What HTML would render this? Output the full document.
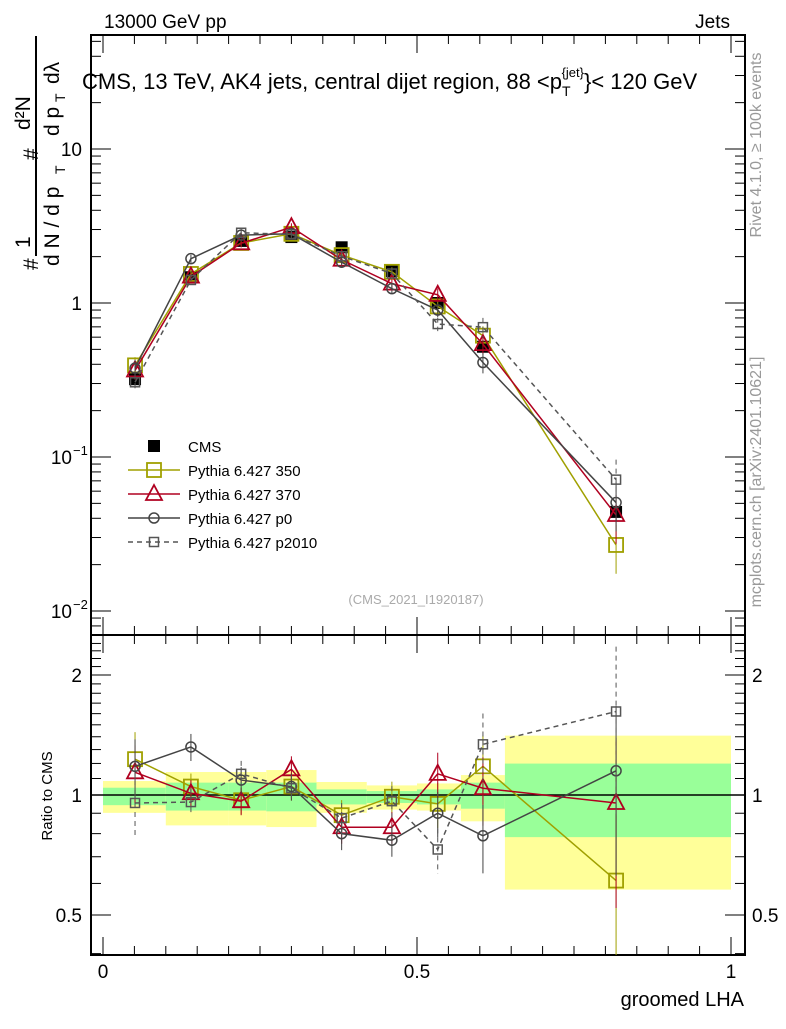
<!DOCTYPE html>
<html><head><meta charset="utf-8"><style>
body{margin:0;background:#fff}
svg text{font-family:"Liberation Sans",sans-serif}
</style></head><body>
<svg id="c" width="786" height="1024" xmlns="http://www.w3.org/2000/svg">
<g id="bands"></g>
<g id="axes"></g>
<g id="series"></g>
<text x="104" y="28" font-size="19">13000 GeV pp</text>
<text x="730" y="28" font-size="19" text-anchor="end">Jets</text>
<text x="82" y="89" font-size="22">CMS, 13 TeV, AK4 jets, central dijet region, 88 &lt;p<tspan font-size="14" dy="7">T</tspan><tspan font-size="13" dy="-19" dx="-9">{jet}</tspan><tspan dy="12">}&lt; 120 GeV</tspan></text>
<text x="416" y="604" font-size="13" fill="#aaa" text-anchor="middle">(CMS_2021_I1920187)</text>
<g transform="translate(761,145) rotate(-90)"><text x="0" y="0" font-size="16" fill="#999" text-anchor="middle">Rivet 4.1.0, ≥ 100k events</text></g>
<g transform="translate(761,482) rotate(-90)"><text x="0" y="0" font-size="16" fill="#999" text-anchor="middle">mcplots.cern.ch [arXiv:2401.10621]</text></g>
<g transform="translate(36,160) rotate(-90)">
<text x="-110" y="2" font-size="21">#</text>
<text x="-88" y="-6" font-size="21">1</text>
<line x1="-96" y1="0" x2="28" y2="0" stroke="#000" stroke-width="2"/>
<text x="-106" y="23" font-size="21">d N / d p</text>
<text x="-14" y="29" font-size="14">T</text>
<text x="0" y="2" font-size="21">#</text>
<text x="30" y="-6" font-size="21">d²N</text>
<line x1="22" y1="0" x2="124" y2="0" stroke="#000" stroke-width="2"/>
<text x="24" y="23" font-size="21">d p</text>
<text x="58" y="29" font-size="14">T</text>
<text x="76" y="23" font-size="21">dλ</text>
</g>
<text x="52" y="796" font-size="15" text-anchor="middle" transform="rotate(-90 52 796)">Ratio to CMS</text>
<text x="744" y="1006" font-size="20" text-anchor="end">groomed LHA</text>
<g id="legend"></g>
</svg>
<script>
const binEdges=[0,0.1,0.2,0.26,0.34,0.42,0.5,0.57,0.64,1.0];
const pointX=[0.051,0.14,0.22,0.30,0.38,0.46,0.533,0.605,0.817];
const cmsValues=[0.32,1.47,2.53,2.68,2.3,1.61,1.0,0.52,0.044];
const cmsErr=[0.04,0.08,0.1,0.1,0.1,0.06,0.05,0.04,0.006];
const yellowHi=[1.084,1.142,1.142,1.155,1.078,1.057,1.069,1.122,1.409];
const yellowLo=[0.902,0.839,0.839,0.831,0.902,0.919,0.914,0.859,0.579];
const greenHi=[1.043,1.074,1.074,1.074,1.033,1.023,1.033,1.074,1.199];
const greenLo=[0.943,0.914,0.914,0.910,0.947,0.955,0.947,0.924,0.784];
const ratio350=[1.23,1.05,0.97,1.05,0.89,0.99,0.95,1.18,0.61];
const ratio370=[1.14,1.01,0.965,1.16,0.83,0.83,1.13,1.04,0.955];
const ratioP0=[1.18,1.32,1.09,1.05,0.80,0.77,0.90,0.79,1.15];
const ratioP2010=[0.955,0.96,1.13,1.04,0.875,0.965,0.73,1.34,1.62];
const relErr=[0.13,0.06,0.06,0.06,0.07,0.07,0.1,0.15,0.35];

const S="http://www.w3.org/2000/svg";
const L=91,R=745,T=35,MB=635,RB=955;
const xp=v=>103+v*628;
const ym=v=>303-Math.log10(v)*154;
const yr=v=>795-Math.log10(v)*398.6;
function mk(p,tag,at){const e=document.createElementNS(S,tag);for(const k in at)e.setAttribute(k,at[k]);p.appendChild(e);return e;}
const bands=document.getElementById('bands'),axes=document.getElementById('axes'),ser=document.getElementById('series'),leg=document.getElementById('legend');
for(let i=0;i<cmsValues.length;i++){
  const x1=xp(binEdges[i]),x2=xp(binEdges[i+1]);
  let r=mk(bands,'rect',{x:x1,y:yr(yellowHi[i]),width:x2-x1,height:yr(yellowLo[i])-yr(yellowHi[i]),fill:'#ffff99'});
  
  
  r=mk(bands,'rect',{x:x1,y:yr(greenHi[i]),width:x2-x1,height:yr(greenLo[i])-yr(greenHi[i]),fill:'#99ff99'});
  
  
}
mk(axes,'rect',{x:L,y:T,width:R-L,height:MB-T,fill:'none',stroke:'#000','stroke-width':2});
mk(axes,'rect',{x:L,y:MB,width:R-L,height:RB-MB,fill:'none',stroke:'#000','stroke-width':2});
mk(axes,'line',{x1:L,x2:R,y1:yr(1),y2:yr(1),stroke:'#000','stroke-width':1.5});
for(let k=0;k<=20;k++){const v=k*0.05,x=xp(v);if(x>R)break;const big=k%10==0,len=big?18:9;
  mk(axes,'line',{x1:x,x2:x,y1:MB,y2:MB-len,stroke:'#000'});
  mk(axes,'line',{x1:x,x2:x,y1:T,y2:T+len,stroke:'#000'});
  mk(axes,'line',{x1:x,x2:x,y1:RB,y2:RB-len,stroke:'#000'});
  mk(axes,'line',{x1:x,x2:x,y1:MB,y2:MB+len,stroke:'#000'});
}
const xl=[["0",0],["0.5",0.5],["1",1]];
xl.forEach(([t,v])=>{const e=mk(axes,'text',{x:xp(v),y:978,'font-size':19,'text-anchor':'middle'});e.textContent=t;});
for(let d=-3;d<=1;d++)for(let m=1;m<10;m++){const v=m*Math.pow(10,d),y=ym(v);if(y<T||y>MB)continue;const len=m==1?20:10;
  mk(axes,'line',{x1:L,x2:L+len,y1:y,y2:y,stroke:'#000'});mk(axes,'line',{x1:R,x2:R-len,y1:y,y2:y,stroke:'#000'});}
[["10",10,""],["1",1,""],["10",0.1,"−1"],["10",0.01,"−2"]].forEach(([b,v,e])=>{const t=mk(axes,'text',{x:e?72:82,y:ym(v)+7,'font-size':19,'text-anchor':'end'});t.textContent=b;
  if(e){const s=mk(axes,'text',{x:73,y:ym(v)-2,'font-size':13});s.textContent=e;}});
for(let v=0.4;v<=2.5;v+=0.1){const y=yr(v);if(y<MB||y>RB)continue;const big=Math.abs(v-0.5)<1e-6||Math.abs(v-1)<1e-6||Math.abs(v-2)<1e-6,len=big?20:10;
  mk(axes,'line',{x1:L,x2:L+len,y1:y,y2:y,stroke:'#000'});mk(axes,'line',{x1:R,x2:R-len,y1:y,y2:y,stroke:'#000'});}
[["2",2],["1",1],["0.5",0.5]].forEach(([t,v])=>{let e=mk(axes,'text',{x:82,y:yr(v)+7,'font-size':19,'text-anchor':'end'});e.textContent=t;
  e=mk(axes,'text',{x:752,y:yr(v)+7,'font-size':19});e.textContent=t;});
function marker(p,type,x,y,col){
  if(type=='bigsq')return mk(p,'rect',{x:x-7,y:y-7,width:14,height:14,fill:'none',stroke:col,'stroke-width':1.8});
  if(type=='tri')return mk(p,'path',{d:`M${x} ${y-9}L${x+8} ${y+6}L${x-8} ${y+6}Z`,fill:'none',stroke:col,'stroke-width':1.8});
  if(type=='circ')return mk(p,'circle',{cx:x,cy:y,r:5,fill:'none',stroke:col,'stroke-width':1.5});
  if(type=='smsq')return mk(p,'rect',{x:x-4.5,y:y-4.5,width:9,height:9,fill:'none',stroke:col,'stroke-width':1.5});
  if(type=='fill')return mk(p,'rect',{x:x-6,y:y-6,width:12,height:12,fill:col});
}
const gc=mk(ser,'g',{});


cmsValues.forEach((v,i)=>{const x=xp(pointX[i]);mk(gc,'line',{x1:x,x2:x,y1:ym(v+cmsErr[i]),y2:ym(v-cmsErr[i]),stroke:'#000'});marker(gc,'fill',x,ym(v),'#000');});
const models=[
 {n:'Pythia 6.427 350',r:ratio350,c:'#a0a000',m:'bigsq',d:'',k:'series-350'},
 {n:'Pythia 6.427 370',r:ratio370,c:'#b00020',m:'tri',d:'',k:'series-370'},
 {n:'Pythia 6.427 p0',r:ratioP0,c:'#444',m:'circ',d:'',k:'series-p0'},
 {n:'Pythia 6.427 p2010',r:ratioP2010,c:'#555',m:'smsq',d:'5,4',k:'series-p2010'}];
models.forEach(md=>{
  const g=mk(ser,'g',{});
  
  
  const vals=md.r.map((r,i)=>r*cmsValues[i]);
  mk(g,'polyline',{points:vals.map((v,i)=>xp(pointX[i])+','+ym(v)).join(' '),fill:'none',stroke:md.c,'stroke-width':1.5,'stroke-dasharray':md.d});
  mk(g,'polyline',{points:md.r.map((v,i)=>xp(pointX[i])+','+yr(v)).join(' '),fill:'none',stroke:md.c,'stroke-width':1.5,'stroke-dasharray':md.d});
  vals.forEach((v,i)=>{const x=xp(pointX[i]),e=relErr[i];
    mk(g,'line',{x1:x,x2:x,y1:ym(v*(1+e)),y2:ym(v*(1-e)),stroke:md.c,'stroke-dasharray':md.d});
    const r=md.r[i];const lo=Math.max(r*(1-e*1.3),0.3);
    mk(g,'line',{x1:x,x2:x,y1:yr(r*(1+e*1.3)),y2:Math.min(yr(lo),RB),stroke:md.c,'stroke-dasharray':md.d});
    marker(g,md.m,x,ym(v),md.c);marker(g,md.m,x,yr(r),md.c);});
});
let t=mk(leg,'rect',{x:148,y:440,width:12,height:12,fill:'#000'});
t=mk(leg,'text',{x:188,y:452,'font-size':15});t.textContent='CMS';
models.forEach((md,i)=>{const y=470+i*24;
  mk(leg,'line',{x1:128,x2:180,y1:y,y2:y,stroke:md.c,'stroke-width':1.5,'stroke-dasharray':md.d});
  marker(leg,md.m,154,y,md.c);
  const tx=mk(leg,'text',{x:188,y:y+6,'font-size':15});tx.textContent=md.n;});
</script>
</body></html>
